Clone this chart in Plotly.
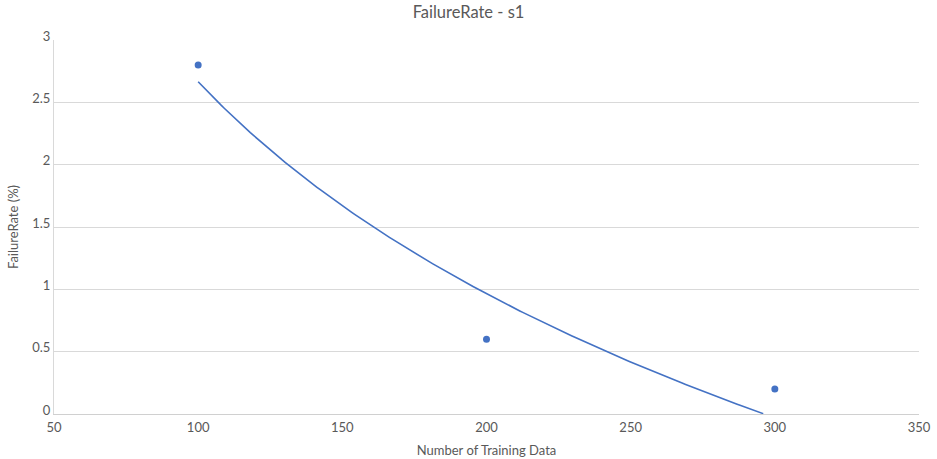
import numpy as np
import plotly.graph_objects as go

# Observed failure rate per training-set size
training_sizes = [100, 200, 300]
failure_rates = [2.8, 0.6, 0.2]

x_ticks = [50, 100, 150, 200, 250, 300, 350]
y_ticks = [0, 0.5, 1, 1.5, 2, 2.5, 3]

# Logarithmic trendline y = a + b*ln(x), least-squares fit to the observations
b, a = np.polyfit(np.log(training_sizes), failure_rates, 1)
trend_x = np.linspace(min(training_sizes), max(training_sizes), 200)
trend_y = a + b * np.log(trend_x)
keep = trend_y >= 0
trend_x, trend_y = trend_x[keep], trend_y[keep]

blue = "#4472C4"
grey_text = "#595959"
font_family = "Lato, 'Open Sans', sans-serif"

fig = go.Figure()
fig.add_trace(go.Scatter(
    x=trend_x, y=trend_y, mode="lines",
    line=dict(color=blue, width=1.6), hoverinfo="skip", showlegend=False,
))
fig.add_trace(go.Scatter(
    x=training_sizes, y=failure_rates, mode="markers",
    marker=dict(color=blue, size=7), showlegend=False,
))

fig.update_layout(
    width=937, height=459,
    margin=dict(l=54, r=18, t=40, b=45),
    paper_bgcolor="white", plot_bgcolor="white",
    font=dict(family=font_family, color=grey_text, size=13),
    title=dict(text="FailureRate - s1", x=0.5, xanchor="center", y=0.985, yanchor="top",
               font=dict(size=16.5, color=grey_text)),
    xaxis=dict(
        range=[50, 350], tickvals=x_ticks, showgrid=False, zeroline=False,
        showline=True, linecolor="#d0d0d0", linewidth=1, ticks="", automargin=False,
        title=dict(text="Number of Training Data", font=dict(size=13, color=grey_text), standoff=12),
        tickfont=dict(size=13, color=grey_text), ticklabelstandoff=1,
    ),
    yaxis=dict(
        range=[0, 3], tickvals=y_ticks, showgrid=True, gridcolor="#d9d9d9", gridwidth=1,
        zeroline=False, showline=True, linecolor="#d9d9d9", linewidth=1, ticks="",
        automargin=False, ticklabelshift=-4,
        title=dict(text="FailureRate (%)", font=dict(size=13, color=grey_text), standoff=10),
        tickfont=dict(size=13, color=grey_text),
    ),
)

fig.write_html("out.html")
